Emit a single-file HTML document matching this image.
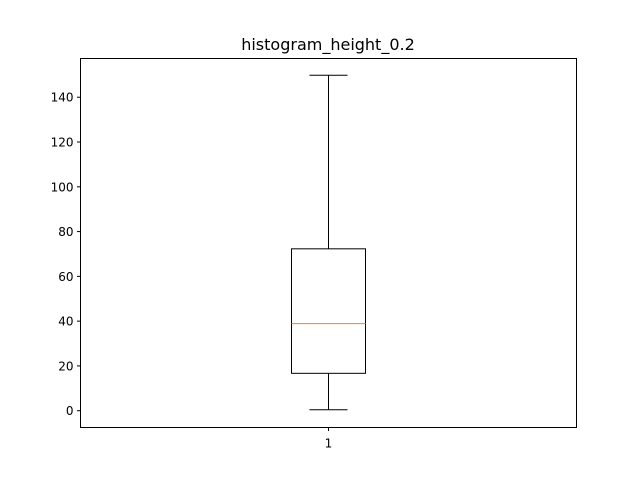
<!DOCTYPE html>
<html><head><meta charset="utf-8"><style>body{margin:0;background:#fff}svg{display:block}text{font-family:"DejaVu Sans","Liberation Sans",sans-serif}</style></head>
<body>
<svg id="chart" width="640" height="480">
<text x="328" y="50" text-anchor="middle" font-size="16">histogram_height_0.2</text>
<g id="ticks"></g>
<g id="box"></g>
<rect x="80.5" y="58.5" width="496" height="369" fill="none" stroke="#000" stroke-width="1"/>
</svg>
<script>
const categories = ["1"];
const whiskerLow = [0.4];
const q1 = [16.7];
const median = [38.9];
const q3 = [72.3];
const whiskerHigh = [149.8];
const yTicks = [0, 20, 40, 60, 80, 100, 120, 140];

const yMin = -7.5, yMax = 157.3, yTop = 58.5, yBottom = 427.5, xLeft = 80.5, xRight = 576.5;
const y = v => yBottom - (v - yMin) / (yMax - yMin) * (yBottom - yTop);
const x = i => xLeft + (i + 1) * (xRight - xLeft) / (categories.length + 1);
const NS = "http://www.w3.org/2000/svg";
function mk(tag, attrs, parent) {
  const e = document.createElementNS(NS, tag);
  for (const k in attrs) e.setAttribute(k, attrs[k]);
  parent.appendChild(e);
  return e;
}
const tg = document.getElementById("ticks");
yTicks.forEach(t => {
  const l = mk("line", {x1: xLeft - 3.5, x2: xLeft, y1: y(t), y2: y(t), stroke: "#000"}, tg);
  
  
  const tx = mk("text", {x: xLeft - 7, y: y(t) + 4.5, "text-anchor": "end", "font-size": "12"}, tg);
  tx.textContent = t;
  
  
});
const bg = document.getElementById("box");
categories.forEach((c, i) => {
  const cx = x(i), hw = 37, cw = 19;
  const l = mk("line", {x1: cx, x2: cx, y1: yBottom, y2: yBottom + 3.5, stroke: "#000"}, tg);
  
  
  const tx = mk("text", {x: cx, y: yBottom + 20, "text-anchor": "middle", "font-size": "12"}, tg);
  tx.textContent = c;
  
  
  const r = mk("rect", {x: cx - hw, y: y(q3[i]), width: 2 * hw, height: y(q1[i]) - y(q3[i]), fill: "none", stroke: "#000"}, bg);
  
  
  const m = mk("line", {x1: cx - hw, x2: cx + hw, y1: y(median[i]), y2: y(median[i]), stroke: "#ff7f0e"}, bg);
  
  
  const w1 = mk("line", {x1: cx, x2: cx, y1: y(q3[i]), y2: y(whiskerHigh[i]), stroke: "#000"}, bg);
  
  
  const w2 = mk("line", {x1: cx, x2: cx, y1: y(q1[i]), y2: y(whiskerLow[i]), stroke: "#000"}, bg);
  
  
  const c1 = mk("line", {x1: cx - cw, x2: cx + cw, y1: y(whiskerHigh[i]), y2: y(whiskerHigh[i]), stroke: "#000"}, bg);
  
  
  const c2 = mk("line", {x1: cx - cw, x2: cx + cw, y1: y(whiskerLow[i]), y2: y(whiskerLow[i]), stroke: "#000"}, bg);
  
  
});
</script>
</body></html>
